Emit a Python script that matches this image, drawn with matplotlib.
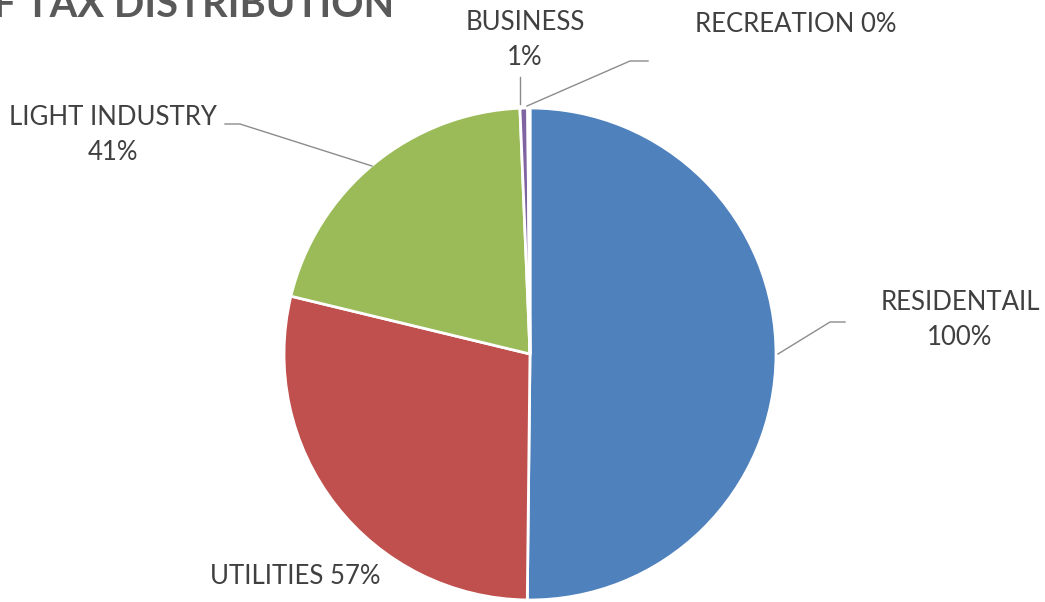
import matplotlib.pyplot as plt

# tax distribution data
categories = ["RESIDENTAIL", "UTILITIES", "LIGHT INDUSTRY", "BUSINESS", "RECREATION"]
values = [100, 57, 41, 1, 0.3]
labels = ["RESIDENTAIL\n100%", "UTILITIES 57%", "LIGHT INDUSTRY\n41%", "BUSINESS\n1%", "RECREATION 0%"]
colors = ["#4F81BD", "#C0504D", "#9BBB59", "#8064A2", "#4BACC6"]

W, H = 1045, 602
fig = plt.figure(figsize=(W / 100, H / 100), dpi=100)

# pie centre (530, 354) px, radius 246 px
cx, cy, r = 530, 354, 246
ax = fig.add_axes([(cx - r) / W, (H - cy - r) / H, 2 * r / W, 2 * r / H])
wedges, _ = ax.pie(values, colors=colors, startangle=90, counterclock=False,
                   wedgeprops=dict(edgecolor="white", linewidth=2), radius=1)
ax.set_xlim(-1, 1)
ax.set_ylim(-1, 1)
ax.axis("off")

font = "Lato"
tcol = "#404040"
lcol = "#8c8c8c"
fs = 18.5


def px(x, y):
    # pixel coords -> figure fraction
    return x / W, 1 - y / H


# labels
fig.text(*px(960, 320), labels[0], ha="center", va="center", fontsize=fs,
         color=tcol, family=font, linespacing=1.5)
fig.text(*px(295, 577), labels[1], ha="center", va="center", fontsize=fs,
         color=tcol, family=font)
fig.text(*px(113, 135), labels[2], ha="center", va="center", fontsize=fs,
         color=tcol, family=font, linespacing=1.5)
fig.text(*px(525, 40), labels[3], ha="center", va="center", fontsize=fs,
         color=tcol, family=font, linespacing=1.5)
fig.text(*px(796, 25), labels[4], ha="center", va="center", fontsize=fs,
         color=tcol, family=font)

# leader lines
leaders = [
    [(778, 354), (830, 322), (845, 322)],
    [(372, 166), (240, 124), (225, 124)],
    [(520, 104), (520, 77)],
    [(527, 106), (630, 61), (648, 61)],
]
for pts in leaders:
    xs = [p[0] / W for p in pts]
    ys = [1 - p[1] / H for p in pts]
    fig.add_artist(plt.Line2D(xs, ys, color=lcol, linewidth=1))

# title, cut at the top-left as in the source
fig.text(*px(-39, 17), "OF TAX DISTRIBUTION", ha="left", va="baseline",
         fontsize=28.7, fontweight="bold", color="#595959", family=font)

fig.savefig("out.png", dpi=100)
